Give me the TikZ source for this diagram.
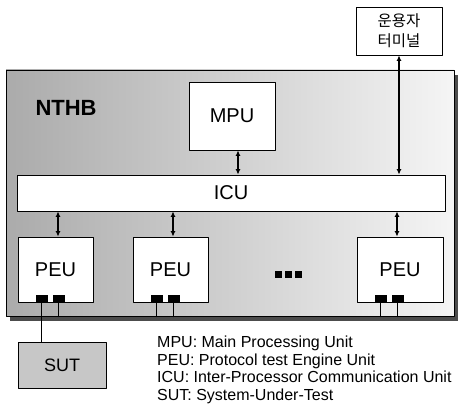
\documentclass[tikz,border=0pt]{standalone}
\usepackage{fontspec}
\setmainfont{Liberation Sans}
\newfontfamily\korfont{Noto Sans CJK KR}
\usetikzlibrary{arrows.meta}
\begin{document}
\begin{tikzpicture}[x=1pt,y=-1pt,line cap=round,line join=round,>={Latex[length=5.5pt,width=5pt]},
  unit/.style={draw,fill=white,line width=0.8pt,inner sep=0pt,font=\fontsize{20}{24}\selectfont},
  port/.style={fill=black,minimum width=12pt,minimum height=7pt,inner sep=0pt},
  link/.style={line width=1.3pt,<->},
  wire/.style={line width=1.6pt}]
  \useasboundingbox (0,0) rectangle (458,404);
  % board with shadow
  \fill[black!70] (10,75) rectangle (458,321);
  \node[draw,line width=0.8pt,left color=black!33,right color=black!4,
    minimum width=448pt,minimum height=246pt,inner sep=0pt] (nthb) at (230,193) {};
  \node[anchor=base west,font=\fontsize{22}{26}\selectfont\bfseries] (title) at (32,115) {NTHB};
  % units
  \node[unit,minimum width=86pt,minimum height=68pt] (mpu) at (232,116) {MPU};
  \node[unit,minimum width=428pt,minimum height=36pt] (icu) at (231,193) {ICU};
  \node[unit,minimum width=75pt,minimum height=65pt] (peu1) at (55.5,269.5) {PEU};
  \node[unit,minimum width=75pt,minimum height=65pt] (peu2) at (170.5,269.5) {PEU};
  \node[unit,minimum width=86pt,minimum height=65pt] (peu3) at (400,269.5) {PEU};
  \node[unit,minimum width=86pt,minimum height=48pt,align=center,
    font=\korfont\fontsize{15.5}{20}\selectfont] (term) at (399,31) {운용자\\터미널};
  \node[draw,fill=black!22,line width=0.8pt,minimum width=88pt,minimum height=46pt,
    inner sep=0pt,font=\fontsize{18}{22}\selectfont] (sut) at (62,365) {SUT};
  % dots
  \node[minimum width=30pt,minimum height=8pt,inner sep=0pt] (dots) at (288,274) {};
  \foreach \dx in {-10,0,10}
    \fill ([xshift=\dx pt]dots.center) ++(-3.5,-3.5) rectangle ++(7,7);
  % links
  \draw[link] ([xshift=6pt]mpu.south) -- ([xshift=6pt]mpu.south |- icu.north);
  \draw[link] (term.south) -- (term.south |- icu.north);
  \draw[link] ([xshift=2.5pt]peu1.north) -- ([xshift=2.5pt]peu1.north |- icu.south);
  \draw[link] ([xshift=2.5pt]peu2.north) -- ([xshift=2.5pt]peu2.north |- icu.south);
  \draw[link] ([xshift=-3pt]peu3.north) -- ([xshift=-3pt]peu3.north |- icu.south);
  % ports
  \foreach \i in {1,2,3} {
    \node[port,anchor=south] (pa\i) at ([xshift=24pt]peu\i.south west) {};
    \node[port,anchor=south] (pb\i) at ([xshift=41pt]peu\i.south west) {};
    \draw[wire] (pb\i.south) -- (pb\i.south |- nthb.south);
  }
  \draw[wire] (pa1.south) -- (pa1.south |- sut.north);
  \draw[wire] (pa2.south) -- (pa2.south |- nthb.south);
  \draw[wire] (pa3.south) -- (pa3.south |- nthb.south);
  % legend
  \node[anchor=north west,align=left,inner sep=0pt,font=\fontsize{16}{17.6}\selectfont] (legend) at (157,336)
    {MPU: Main Processing Unit\\
     PEU: Protocol test Engine Unit\\
     ICU: Inter-Processor Communication Unit\\
     SUT: System-Under-Test};
\end{tikzpicture}
\end{document}
